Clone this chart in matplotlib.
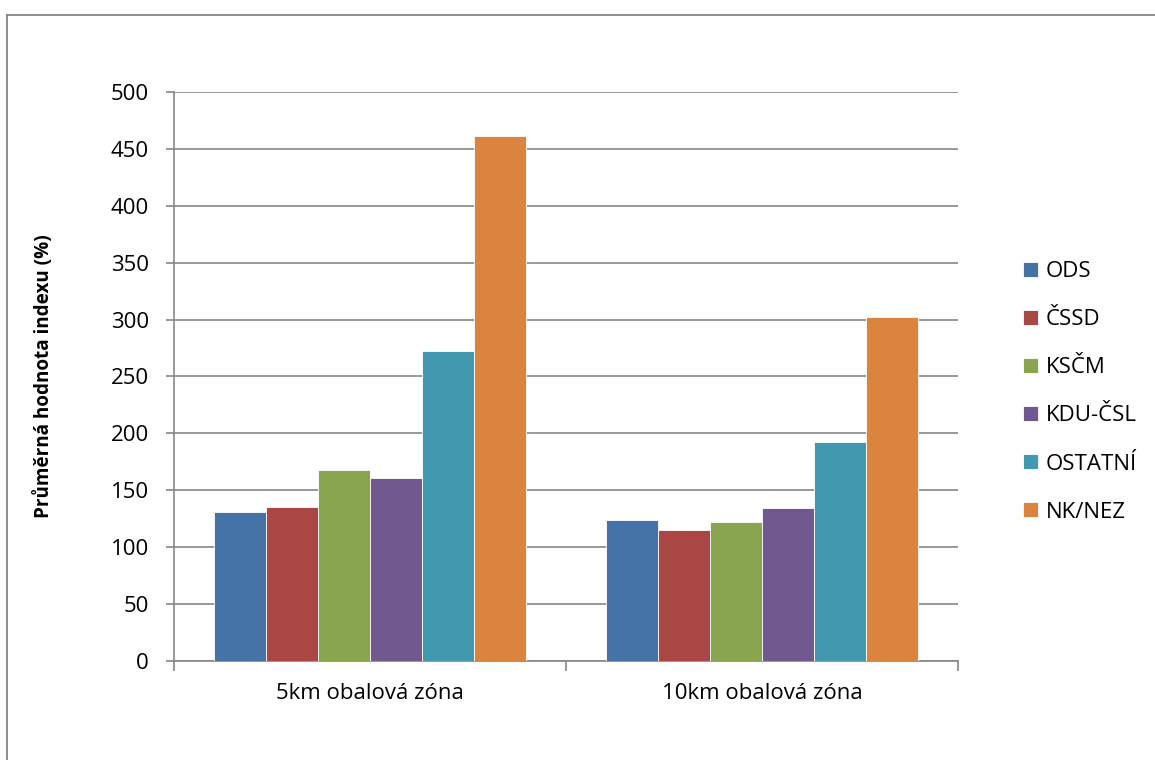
import matplotlib
matplotlib.use('Agg')
import matplotlib.pyplot as plt
from matplotlib.lines import Line2D
import numpy as np

plt.rcParams['font.family'] = ['Open Sans', 'DejaVu Sans']

zones = ['5km obalová zóna', '10km obalová zóna']
parties = ['ODS', 'ČSSD', 'KSČM', 'KDU-ČSL', 'OSTATNÍ', 'NK/NEZ']
values = {
    'ODS': [131, 124],
    'ČSSD': [135, 115],
    'KSČM': [167.5, 122],
    'KDU-ČSL': [161, 134.5],
    'OSTATNÍ': [272, 192.5],
    'NK/NEZ': [461, 302],
}
colors = ['#4572A7', '#AA4643', '#89A54E', '#71588F', '#4198AF', '#DB843D']
yticks = [0, 50, 100, 150, 200, 250, 300, 350, 400, 450, 500]

W, H = 1155, 760
fig = plt.figure(figsize=(W / 100, H / 100), dpi=100)
ax = fig.add_axes([174 / W, 1 - 661 / H, (958 - 174) / W, (661 - 92) / H])

grey = '#868686'
fs = 16
x = np.arange(len(zones))
bw = 0.1327
for i, p in enumerate(parties):
    ax.bar(x + (i - 2.5) * bw, values[p], width=bw, color=colors[i],
           edgecolor='white', linewidth=0.6, label=p, zorder=3)

ax.set_xlim(-0.5, 1.5)
ax.set_ylim(0, 500)
ax.set_yticks(yticks)
ax.yaxis.grid(True, color=grey, linewidth=1.2, zorder=0)
ax.set_xticks(x)
ax.set_xticklabels(zones, fontsize=fs)
ax.tick_params(axis='x', length=0, pad=16)
ax.set_xticks([-0.5, 0.5, 1.5], minor=True)
ax.tick_params(axis='x', which='minor', length=7, color=grey, width=1.2)
ax.tick_params(axis='y', labelsize=fs, length=6, color=grey, width=1.2, pad=12)
for s in ['top', 'right']:
    ax.spines[s].set_visible(False)
for s in ['left', 'bottom']:
    ax.spines[s].set_color(grey)
    ax.spines[s].set_linewidth(1.2)

ax.set_ylabel('Průměrná hodnota indexu (%)', fontsize=13.6, fontweight='bold')
ax.yaxis.set_label_coords(-0.153, 0.5)

leg = ax.legend(loc='center left', bbox_to_anchor=(1.058, 0.473), frameon=False,
                fontsize=fs, handlelength=0.65, handleheight=0.65,
                handletextpad=0.35, labelspacing=1.22)

# outer chart border
fig.add_artist(Line2D([7 / W, 7 / W], [0, 1 - 15 / H], color=grey, linewidth=1.3))
fig.add_artist(Line2D([7 / W, 1], [1 - 15 / H, 1 - 15 / H], color=grey, linewidth=1.3))

fig.savefig('out.png', dpi=100)
